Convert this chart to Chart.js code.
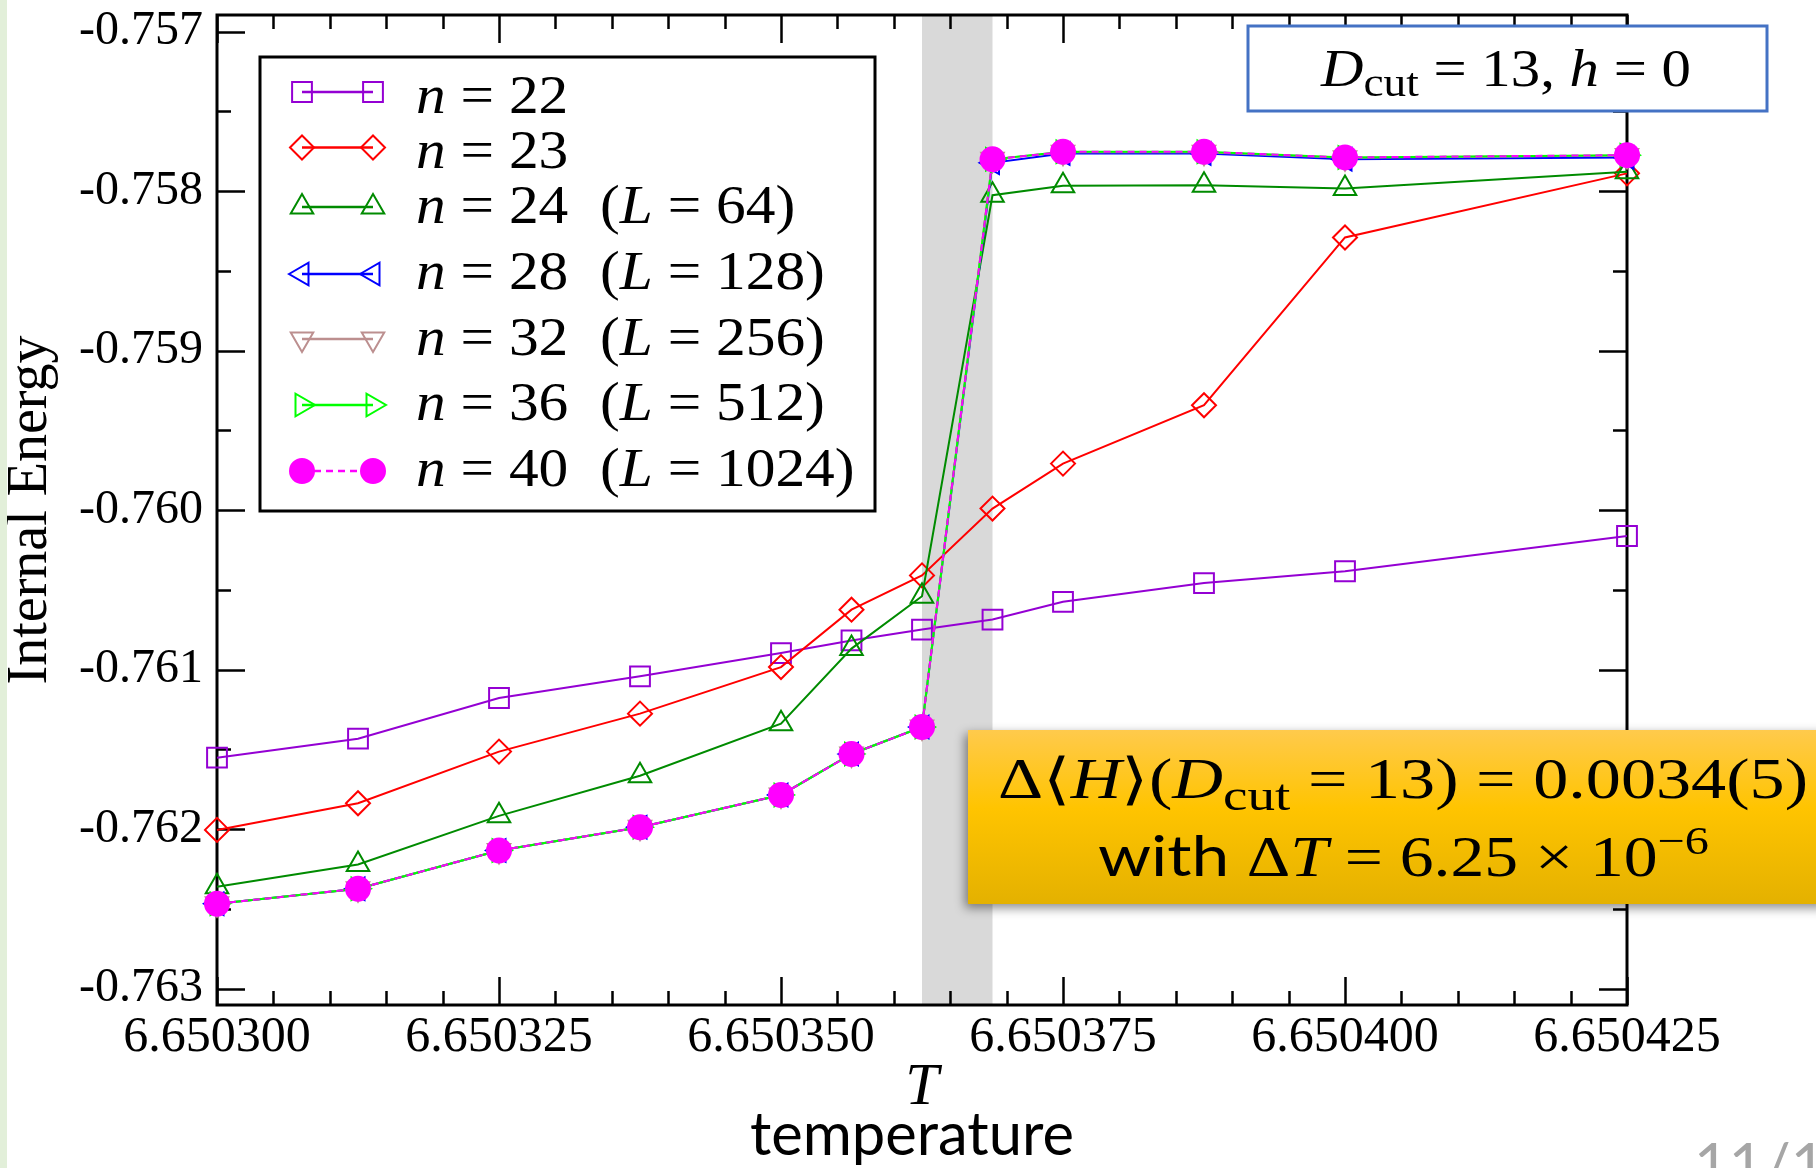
<!DOCTYPE html>
<html><head><meta charset="utf-8">
<script src="https://cdn.jsdelivr.net/npm/chart.js@4/dist/chart.umd.min.js"></script>
<style>
html,body{margin:0;padding:0;background:#fff;}
#wrap{position:relative;width:1816px;height:1168px;overflow:hidden;background:#fff;}
canvas{position:absolute;left:0;top:0;}
</style></head><body>
<div id="wrap"><canvas id="c" width="1816" height="1168"></canvas></div>
<script>
// ---------------- data ----------------
const temperature = [6.6503, 6.6503125, 6.650325, 6.6503375, 6.65035, 6.65035625, 6.6503625, 6.65036875, 6.650375, 6.6503875, 6.6504, 6.650425];
const energyN22 = [-0.761552, -0.761433, -0.761178, -0.761042, -0.760896, -0.760817, -0.760749, -0.760686, -0.760575, -0.760457, -0.760383, -0.760162];
const energyN23 = [-0.762005, -0.761838, -0.761514, -0.761276, -0.760984, -0.760624, -0.760409, -0.759990, -0.759708, -0.759342, -0.758290, -0.757888];
const energyN24 = [-0.762362, -0.762222, -0.761917, -0.761665, -0.761339, -0.760868, -0.760540, -0.758025, -0.757966, -0.757962, -0.757983, -0.757878];
const energyN28 = [-0.762468, -0.762374, -0.762134, -0.761988, -0.761786, -0.761529, -0.761360, -0.757822, -0.757763, -0.757763, -0.757800, -0.757788];
const energyN32 = [-0.762468, -0.762374, -0.762134, -0.761988, -0.761786, -0.761529, -0.761360, -0.757800, -0.757755, -0.757755, -0.757790, -0.757776];
const energyN36 = [-0.762468, -0.762374, -0.762134, -0.761988, -0.761786, -0.761529, -0.761360, -0.757800, -0.757753, -0.757753, -0.757788, -0.757774];
const energyN40 = [-0.762468, -0.762374, -0.762134, -0.761988, -0.761786, -0.761529, -0.761360, -0.757800, -0.757753, -0.757753, -0.757788, -0.757774];
const seriesN = [22, 23, 24, 28, 32, 36, 40];
const seriesL = [null, null, 64, 128, 256, 512, 1024];
const xTickLabels = ['6.650300', '6.650325', '6.650350', '6.650375', '6.650400', '6.650425'];
const yTickLabels = ['-0.763', '-0.762', '-0.761', '-0.760', '-0.759', '-0.758', '-0.757'];
const bandT = [6.6503625, 6.65036875];
const xRange = [6.6503, 6.650425];
const yRange = [-0.763103, -0.756895];
const energies = [energyN22, energyN23, energyN24, energyN28, energyN32, energyN36, energyN40];

// ---------------- styles ----------------
const styles = [
  {color:'#9400d3', point:'rect',     r:14, rot:0,   dash:[]},
  {color:'#ff0000', point:'rectRot',  r:12, rot:0,   dash:[]},
  {color:'#008b00', point:'triangle', r:13, rot:0,   dash:[]},
  {color:'#0000ff', point:'triangle', r:13, rot:270, dash:[]},
  {color:'#bc8f8f', point:'triangle', r:13, rot:180, dash:[]},
  {color:'#00ff00', point:'triangle', r:13, rot:90,  dash:[]},
  {color:'#ff00ff', point:'circle',   r:12, rot:0,   dash:[7,5], fill:true}
];
const SERIF = "'Liberation Serif', 'Times New Roman', serif";
const SANS = "Lato, 'Open Sans', sans-serif";

const datasets = energies.map((arr, i) => ({
  label: 'n = ' + seriesN[i],
  data: temperature.map((t, j) => ({x: t, y: arr[j]})),
  borderColor: styles[i].color,
  borderWidth: 2,
  borderDash: styles[i].dash,
  pointStyle: styles[i].point,
  pointRotation: styles[i].rot,
  pointRadius: styles[i].r,
  pointBorderWidth: 2,
  pointBorderColor: styles[i].color,
  pointBackgroundColor: styles[i].fill ? styles[i].color : 'rgba(0,0,0,0)',
  backgroundColor: 'rgba(0,0,0,0)',
  tension: 0,
  clip: false,
  order: energies.length - i
}));

// marker drawing for the legend (mirrors Chart.js point styles)
function drawMarker(ctx, st, x, y) {
  const r = st.r, rad = st.rot * Math.PI / 180;
  ctx.beginPath();
  if (st.point === 'circle') {
    ctx.arc(x, y, r, 0, Math.PI * 2);
  } else if (st.point === 'rect') {
    const s = Math.SQRT1_2 * r;
    ctx.rect(x - s, y - s, 2 * s, 2 * s);
  } else if (st.point === 'rectRot') {
    ctx.moveTo(x - r, y); ctx.lineTo(x, y - r); ctx.lineTo(x + r, y); ctx.lineTo(x, y + r); ctx.closePath();
  } else if (st.point === 'triangle') {
    let a = rad;
    ctx.moveTo(x + Math.sin(a) * r, y - Math.cos(a) * r);
    a += 2 * Math.PI / 3;
    ctx.lineTo(x + Math.sin(a) * r, y - Math.cos(a) * r);
    a += 2 * Math.PI / 3;
    ctx.lineTo(x + Math.sin(a) * r, y - Math.cos(a) * r);
    ctx.closePath();
  }
  if (st.fill) { ctx.fillStyle = st.color; ctx.fill(); }
  ctx.setLineDash([]);
  ctx.lineWidth = 2; ctx.strokeStyle = st.color; ctx.stroke();
}

function fontOf(r) {
  return (r.i ? 'italic ' : '') + r.s + 'px ' + (r.f || SERIF);
}
// draw a sequence of text runs; horizontally scaled to span x0..x1 (or by factor kx)
function drawRuns(ctx, runs, x0, x1, base, kx) {
  let w = 0;
  for (const r of runs) { ctx.font = fontOf(r); w += ctx.measureText(r.t).width; }
  const k = x1 ? (x1 - x0) / w : (kx || 1);
  ctx.save();
  ctx.translate(x0, base);
  ctx.scale(k, 1);
  ctx.textBaseline = 'alphabetic';
  ctx.textAlign = 'left';
  let x = 0;
  for (const r of runs) {
    ctx.font = fontOf(r);
    ctx.fillText(r.t, x, r.dy || 0);
    x += ctx.measureText(r.t).width;
  }
  ctx.restore();
}

const decor = {
  id: 'decor',
  beforeDatasetsDraw(chart) {
    const {ctx, chartArea: a, scales: {x, y}} = chart;
    ctx.save();
    // shaded transition band
    const b0 = x.getPixelForValue(bandT[0]), b1 = x.getPixelForValue(bandT[1]);
    ctx.fillStyle = '#d9d9d9';
    ctx.fillRect(b0, a.top, b1 - b0, a.bottom - a.top);
    // frame
    ctx.strokeStyle = '#000';
    ctx.lineWidth = 3;
    ctx.strokeRect(a.left, a.top, a.right - a.left, a.bottom - a.top);
    // inward ticks on all four sides
    ctx.lineWidth = 2.5;
    const xm = xTickLabels.map(Number), ym = yTickLabels.map(Number);
    const xt = [], yt = [];
    xm.forEach((v, i) => {
      xt.push([v, 28]);
      if (i < xm.length - 1) for (let k = 1; k < 5; k++) xt.push([v + (xm[i + 1] - v) * k / 5, 14]);
    });
    ym.forEach((v, i) => {
      yt.push([v, 28]);
      if (i < ym.length - 1) yt.push([(v + ym[i + 1]) / 2, 14]);
    });
    ctx.beginPath();
    for (const [v, len] of xt) {
      const px = Math.round(x.getPixelForValue(v)) + 0.5;
      ctx.moveTo(px, a.bottom); ctx.lineTo(px, a.bottom - len);
      ctx.moveTo(px, a.top); ctx.lineTo(px, a.top + len);
    }
    for (const [v, len] of yt) {
      const py = Math.round(y.getPixelForValue(v)) + 0.5;
      ctx.moveTo(a.left, py); ctx.lineTo(a.left + len, py);
      ctx.moveTo(a.right, py); ctx.lineTo(a.right - len, py);
    }
    ctx.stroke();
    ctx.restore();
  },
  afterDraw(chart) {
    const ctx = chart.ctx;
    ctx.save();
    // slide edge strip
    ctx.fillStyle = '#e2efd9';
    ctx.fillRect(0, 0, 7, 1168);

    // legend box
    ctx.fillStyle = '#fff';
    ctx.fillRect(260, 57, 615, 454);
    ctx.strokeStyle = '#000'; ctx.lineWidth = 3;
    ctx.strokeRect(260, 57, 615, 454);
    const symY = [92, 147.5, 207, 274, 339, 405, 471];
    const baseY = [112.5, 168, 223, 288.6, 355, 420, 486];
    styles.forEach((st, i) => {
      const yy = symY[i];
      ctx.beginPath();
      ctx.setLineDash(st.dash);
      ctx.lineWidth = 2.5; ctx.strokeStyle = st.color;
      ctx.moveTo(302, yy); ctx.lineTo(373, yy); ctx.stroke();
      ctx.setLineDash([]);
      drawMarker(ctx, st, 302, yy);
      drawMarker(ctx, st, 373, yy);
      ctx.fillStyle = '#000';
      drawRuns(ctx, [{t:'n', s:55, i:true}, {t:' = ' + seriesN[i], s:55}], 416, 0, baseY[i], 1.08);
      if (seriesL[i] !== null) {
        drawRuns(ctx, [{t:'(', s:55}, {t:'L', s:55, i:true}, {t:' = ' + seriesL[i] + ')', s:55}], 600, 0, baseY[i], 1.08);
      }
    });

    // parameter box
    ctx.fillStyle = '#fff';
    ctx.fillRect(1248, 26, 519, 85);
    ctx.strokeStyle = '#4472c4'; ctx.lineWidth = 3;
    ctx.strokeRect(1248, 26, 519, 85);
    ctx.fillStyle = '#000';
    drawRuns(ctx, [{t:'D', s:52, i:true}, {t:'cut', s:40, dy:10}, {t:' = 13, ', s:52}, {t:'h', s:52, i:true}, {t:' = 0', s:52}], 1321, 1691, 86);

    // result box
    ctx.save();
    ctx.shadowColor = 'rgba(0,0,0,0.45)';
    ctx.shadowBlur = 10; ctx.shadowOffsetX = -3; ctx.shadowOffsetY = 4;
    const g = ctx.createLinearGradient(0, 730, 0, 904);
    g.addColorStop(0, '#ffca4c'); g.addColorStop(0.45, '#ffc400'); g.addColorStop(1, '#e4b100');
    ctx.fillStyle = g;
    ctx.fillRect(968, 730, 860, 174);
    ctx.restore();
    ctx.fillStyle = '#000';
    drawRuns(ctx, [{t:'Δ⟨', s:56}, {t:'H', s:56, i:true}, {t:'⟩(', s:56}, {t:'D', s:56, i:true}, {t:'cut', s:44, dy:12}, {t:' = 13) = 0.0034(5)', s:56}], 998, 1808, 798);
    drawRuns(ctx, [{t:'with ', s:56, f:SANS}, {t:'Δ', s:56}, {t:'T', s:56, i:true}, {t:' = 6.25 × 10', s:56}, {t:'−6', s:40, dy:-22}], 1098, 1709, 876);

    // slide caption + page number
    drawRuns(ctx, [{t:'temperature', s:60, f:SANS}], 750, 1074, 1155);
    ctx.fillStyle = '#a6a6a6';
    drawRuns(ctx, [{t:'11/1', s:60, f:SANS}], 1694, 0, 1186);
    ctx.restore();
  }
};

new Chart(document.getElementById('c'), {
  type: 'line',
  data: {datasets},
  options: {
    responsive: false,
    animation: false,
    devicePixelRatio: 1,
    layout: {padding: {left: 0, top: 15, right: 189, bottom: 0}, autoPadding: false},
    plugins: {legend: {display: false}, tooltip: {enabled: false}},
    scales: {
      x: {
        type: 'linear', min: xRange[0], max: xRange[1],
        afterBuildTicks: s => { s.ticks = xTickLabels.map(v => ({value: Number(v)})); },
        afterFit: s => { s.height = 163; s.paddingLeft = 0; s.paddingRight = 0; },
        ticks: {
          callback: (v, i) => xTickLabels[i],
          autoSkip: false, maxRotation: 0, minRotation: 0, padding: 3,
          color: '#000', font: {family: SERIF, size: 50}
        },
        grid: {display: false, drawTicks: false},
        border: {display: false},
        title: {display: true, text: 'T', color: '#000', font: {family: SERIF, size: 60, style: 'italic', lineHeight: 1.2}, padding: {top: 0, bottom: 44}}
      },
      y: {
        type: 'linear', min: yRange[0], max: yRange[1],
        afterBuildTicks: s => { s.ticks = yTickLabels.map(v => ({value: Number(v)})); },
        afterFit: s => { s.width = 217; s.paddingTop = 0; s.paddingBottom = 0; },
        ticks: {
          callback: (v, i) => yTickLabels[i],
          autoSkip: false, padding: 14,
          color: '#000', font: {family: SERIF, size: 48}
        },
        grid: {display: false, drawTicks: false},
        border: {display: false},
        title: {display: true, text: 'Internal Energy', color: '#000', font: {family: SERIF, size: 56, lineHeight: 1.1}, padding: {top: 0, bottom: 0}}
      }
    }
  },
  plugins: [decor]
});
</script>
</body></html>
